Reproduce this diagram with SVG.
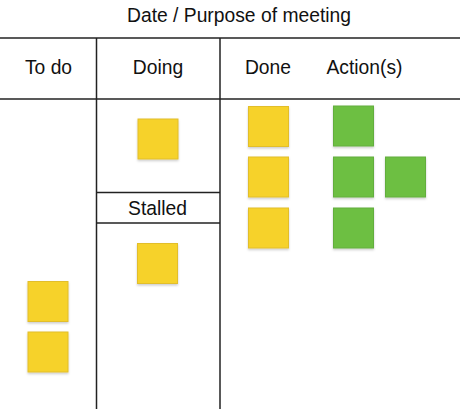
<svg xmlns="http://www.w3.org/2000/svg" width="460" height="409" viewBox="0 0 460 409">
<style>
text{font-family:"Liberation Sans",Arial,sans-serif;font-size:19.3px;fill:#111;}
.ln{stroke:#222;stroke-width:1.5;fill:none;}
.y{fill:#F6D22A;stroke:#E2BE2C;stroke-width:1;}
.g{fill:#6DBF43;stroke:#62AE3C;stroke-width:1;}
</style>
<defs>
<filter id="s" x="-20%" y="-20%" width="140%" height="150%"><feDropShadow dx="0" dy="1.5" stdDeviation="1" flood-color="#000" flood-opacity="0.2"/></filter>
</defs>
<rect width="460" height="409" fill="#fff"/>
<g id="connectors">
<line class="ln" x1="0" y1="38" x2="460" y2="38"/>
<line class="ln" x1="0" y1="99" x2="460" y2="99"/>
<line class="ln" x1="96.5" y1="38" x2="96.5" y2="409"/>
<line class="ln" x1="220" y1="38" x2="220" y2="409"/>
<line class="ln" x1="96" y1="192.5" x2="220" y2="192.5"/>
<line class="ln" x1="96" y1="223" x2="220" y2="223"/>
</g>
<g id="title"><text x="239" y="22" text-anchor="middle">Date / Purpose of meeting</text></g>
<g id="todo-header"><text x="48.5" y="74" text-anchor="middle">To do</text></g>
<g id="doing-header"><text x="158" y="74" text-anchor="middle">Doing</text></g>
<g id="done-header"><text x="268" y="74" text-anchor="middle">Done</text></g>
<g id="actions-header"><text x="364.5" y="74" text-anchor="middle">Action(s)</text></g>
<g id="stalled-header"><text x="157.5" y="215" text-anchor="middle">Stalled</text></g>
<g id="todo-1" filter="url(#s)"><rect class="y" x="28" y="281.5" width="40" height="40"/></g>
<g id="todo-2" filter="url(#s)"><rect class="y" x="28" y="332" width="40" height="40"/></g>
<g id="doing-1" filter="url(#s)"><rect class="y" x="138" y="119" width="40" height="40"/></g>
<g id="stalled-1" filter="url(#s)"><rect class="y" x="137.5" y="243.5" width="40" height="40"/></g>
<g id="done-1" filter="url(#s)"><rect class="y" x="248.5" y="106.5" width="40" height="40"/></g>
<g id="done-2" filter="url(#s)"><rect class="y" x="248.5" y="157" width="40" height="40"/></g>
<g id="done-3" filter="url(#s)"><rect class="y" x="248.5" y="208" width="40" height="40"/></g>
<g id="action-1" filter="url(#s)"><rect class="g" x="333.5" y="106" width="40" height="40"/></g>
<g id="action-2" filter="url(#s)"><rect class="g" x="333.5" y="157" width="40" height="40"/></g>
<g id="action-3" filter="url(#s)"><rect class="g" x="385.5" y="157" width="40" height="40"/></g>
<g id="action-4" filter="url(#s)"><rect class="g" x="333.5" y="208" width="40" height="40"/></g>
</svg>
